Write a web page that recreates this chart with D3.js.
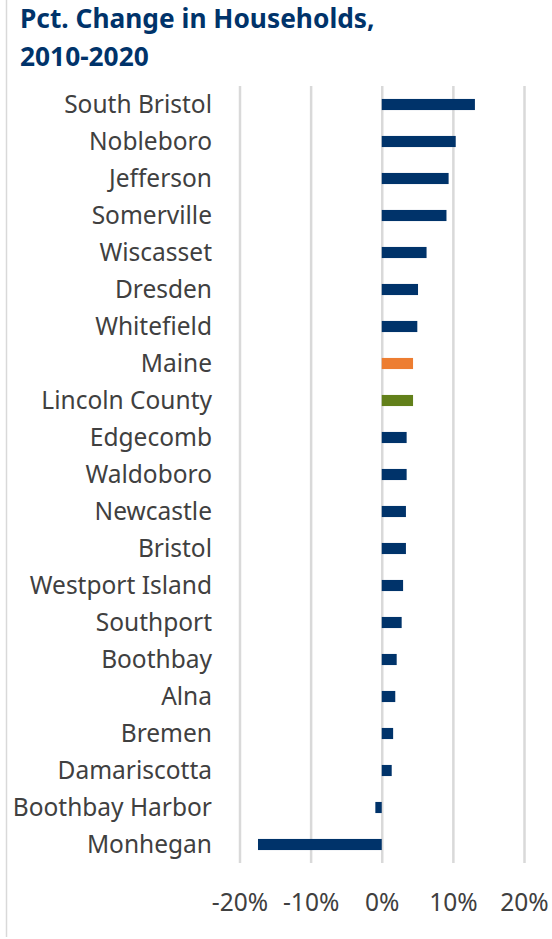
<!DOCTYPE html>
<html lang="en">
	<head>
		<meta charset="utf-8">
		<title>Pct. Change in Households</title>
		<script type="text/javascript" src="https://cdnjs.cloudflare.com/ajax/libs/d3/7.8.5/d3.min.js"></script>
		<style type="text/css">
			body { margin: 0; background: #fff; }
		</style>
	</head>
	<body>
		<script type="text/javascript">

			var w = 552;
			var h = 939;

			var towns = ['South Bristol','Nobleboro','Jefferson','Somerville','Wiscasset','Dresden','Whitefield',
				'Maine','Lincoln County','Edgecomb','Waldoboro','Newcastle','Bristol','Westport Island',
				'Southport','Boothbay','Alna','Bremen','Damariscotta','Boothbay Harbor','Monhegan']
			var pctChange = [13.1, 10.4, 9.4, 9.1, 6.3, 5.1, 5.0, 4.4, 4.4, 3.5, 3.5, 3.4, 3.4, 3.0,
				2.8, 2.1, 1.9, 1.6, 1.4, -0.9, -17.4]
			var tickValues = [-20, -10, 0, 10, 20]

			var colorOf = name => name == 'Maine' ? '#ed7d31' : name == 'Lincoln County' ? '#62801a' : '#00336a'

			var dataset = towns.map((t,i) => ({name:t, value:pctChange[i]}))

			var xScale = d3.scaleLinear()
							.domain([-20,20])
							.range([239.5,524])

			var yScale = d3.scaleBand()
							.domain(towns)
							.range([86,863])
							.paddingInner(0.7)
							.paddingOuter(0.35)

			var svg = d3.select('body')
							.append('svg')
							.attr('width',w)
							.attr('height',h)

			// left frame edge
			svg.append('line')
				.attr('x1',6.5).attr('x2',6.5)
				.attr('y1',0).attr('y2',937)
				.attr('stroke','#d9d9d9')
				.attr('stroke-width',1.5)

			// title
			svg.append('text')
				.attr('font-family','"Noto Sans", sans-serif')
				.attr('font-weight','bold')
				.attr('font-size',26.3)
				.attr('fill','#00336a')
				.selectAll('tspan')
				.data(['Pct. Change in Households,','2010-2020'])
				.enter()
				.append('tspan')
				.attr('x',20)
				.attr('y',(d,i)=>28+i*37.5)
				.text(d=>d)

			// grid
			svg.append('g')
				.attr('transform',`translate(0,863)`)
				.call(d3.axisBottom(xScale)
						.tickValues(tickValues)
						.tickSize(-777)
						.tickFormat(d=>d+'%')
						.tickPadding(31))
				.call(g => g.select('.domain').remove())
				.call(g => g.selectAll('.tick line').attr('stroke','#d9d9d9').attr('stroke-width',2.5))
				.call(g => g.selectAll('.tick text')
								.attr('font-family','"Noto Sans", sans-serif')
								.attr('font-size',24.5)
								.attr('fill','#404040'))

			// bars
			svg.append('g')
				.selectAll('rect')
					.data(dataset)
					.enter()
					.append('rect')
					.attr('x',d=>xScale(Math.min(0,d.value)))
					.attr('y',d=>yScale(d.name))
					.attr('width',d=>Math.abs(xScale(d.value)-xScale(0)))
					.attr('height',yScale.bandwidth())
					.attr('fill',d=>colorOf(d.name))

			// category labels
			svg.append('g')
					.attr('text-anchor','end')
					.attr('font-family','"Noto Sans", sans-serif')
					.attr('font-size',24.5)
					.attr('fill','#404040')
				.selectAll('text')
					.data(dataset)
					.enter()
					.append('text')
					.attr('x',212)
					.attr('y',d=>yScale(d.name)+yScale.bandwidth()/2)
					.attr('dy','0.35em')
					.text(d=>d.name)
		</script>
	</body>
</html>
